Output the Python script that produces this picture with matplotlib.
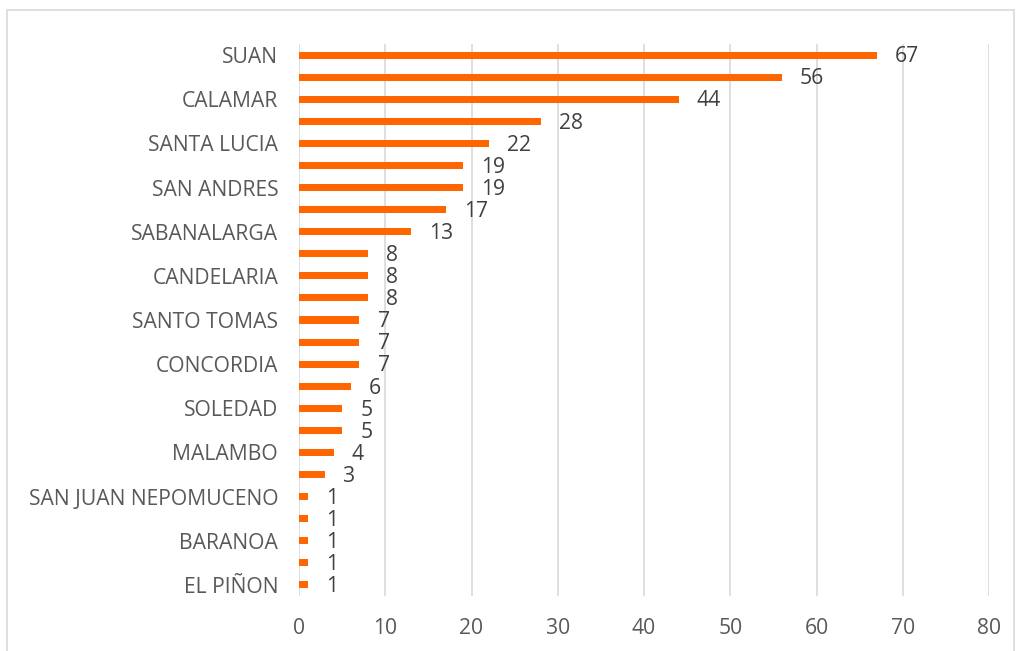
import matplotlib.pyplot as plt
from matplotlib.patches import Rectangle

plt.rcParams['font.family'] = ['Open Sans', 'DejaVu Sans']

# municipios (top to bottom); blank entries are categories whose label is not shown
municipios = ["SUAN", "", "CALAMAR", "", "SANTA LUCIA", "", "SAN ANDRES", "",
              "SABANALARGA", "", "CANDELARIA", "", "SANTO TOMAS", "", "CONCORDIA", "",
              "SOLEDAD", "", "MALAMBO", "", "SAN JUAN NEPOMUCENO", "", "BARANOA", "",
              "EL PIÑON"]
casos = [67, 56, 44, 28, 22, 19, 19, 17, 13, 8, 8, 8, 7, 7, 7, 6, 5, 5, 4, 3, 1, 1, 1, 1, 1]
xticks = [0, 10, 20, 30, 40, 50, 60, 70, 80]

fig = plt.figure(figsize=(10.22, 6.51), dpi=100)
ax = fig.add_axes([0.2926, 0.0845, 0.6751, 0.8479])

pos = range(len(casos))
ax.barh(pos, casos, height=0.32, color="#FF6600", zorder=3)
for p, v in zip(pos, casos):
    ax.text(v + 2.1, p + 0.08, str(v), va="center", ha="left", fontsize=15.2, color="#404040")

ax.set_yticks(list(pos))
ax.set_yticklabels(municipios, fontsize=15.2, color="#595959")
ax.set_ylim(len(casos) - 0.5, -0.5)
ax.set_xlim(0, 80)
ax.set_xticks(xticks)
ax.set_xticklabels([str(t) for t in xticks], fontsize=15.2, color="#595959")
ax.tick_params(length=0)
ax.tick_params(axis="x", pad=16)
ax.tick_params(axis="y", pad=15)
ax.grid(axis="x", color="#D9D9D9", linewidth=1.2, zorder=0)
for s in ax.spines.values():
    s.set_visible(False)

# chart border
fig.patches.append(Rectangle((7 / 1022, -0.01), 1007 / 1022, 1 - 10 / 651 + 0.01,
                             transform=fig.transFigure, fill=False,
                             edgecolor="#D9D9D9", linewidth=1.2))

fig.savefig("out.png", dpi=100)
